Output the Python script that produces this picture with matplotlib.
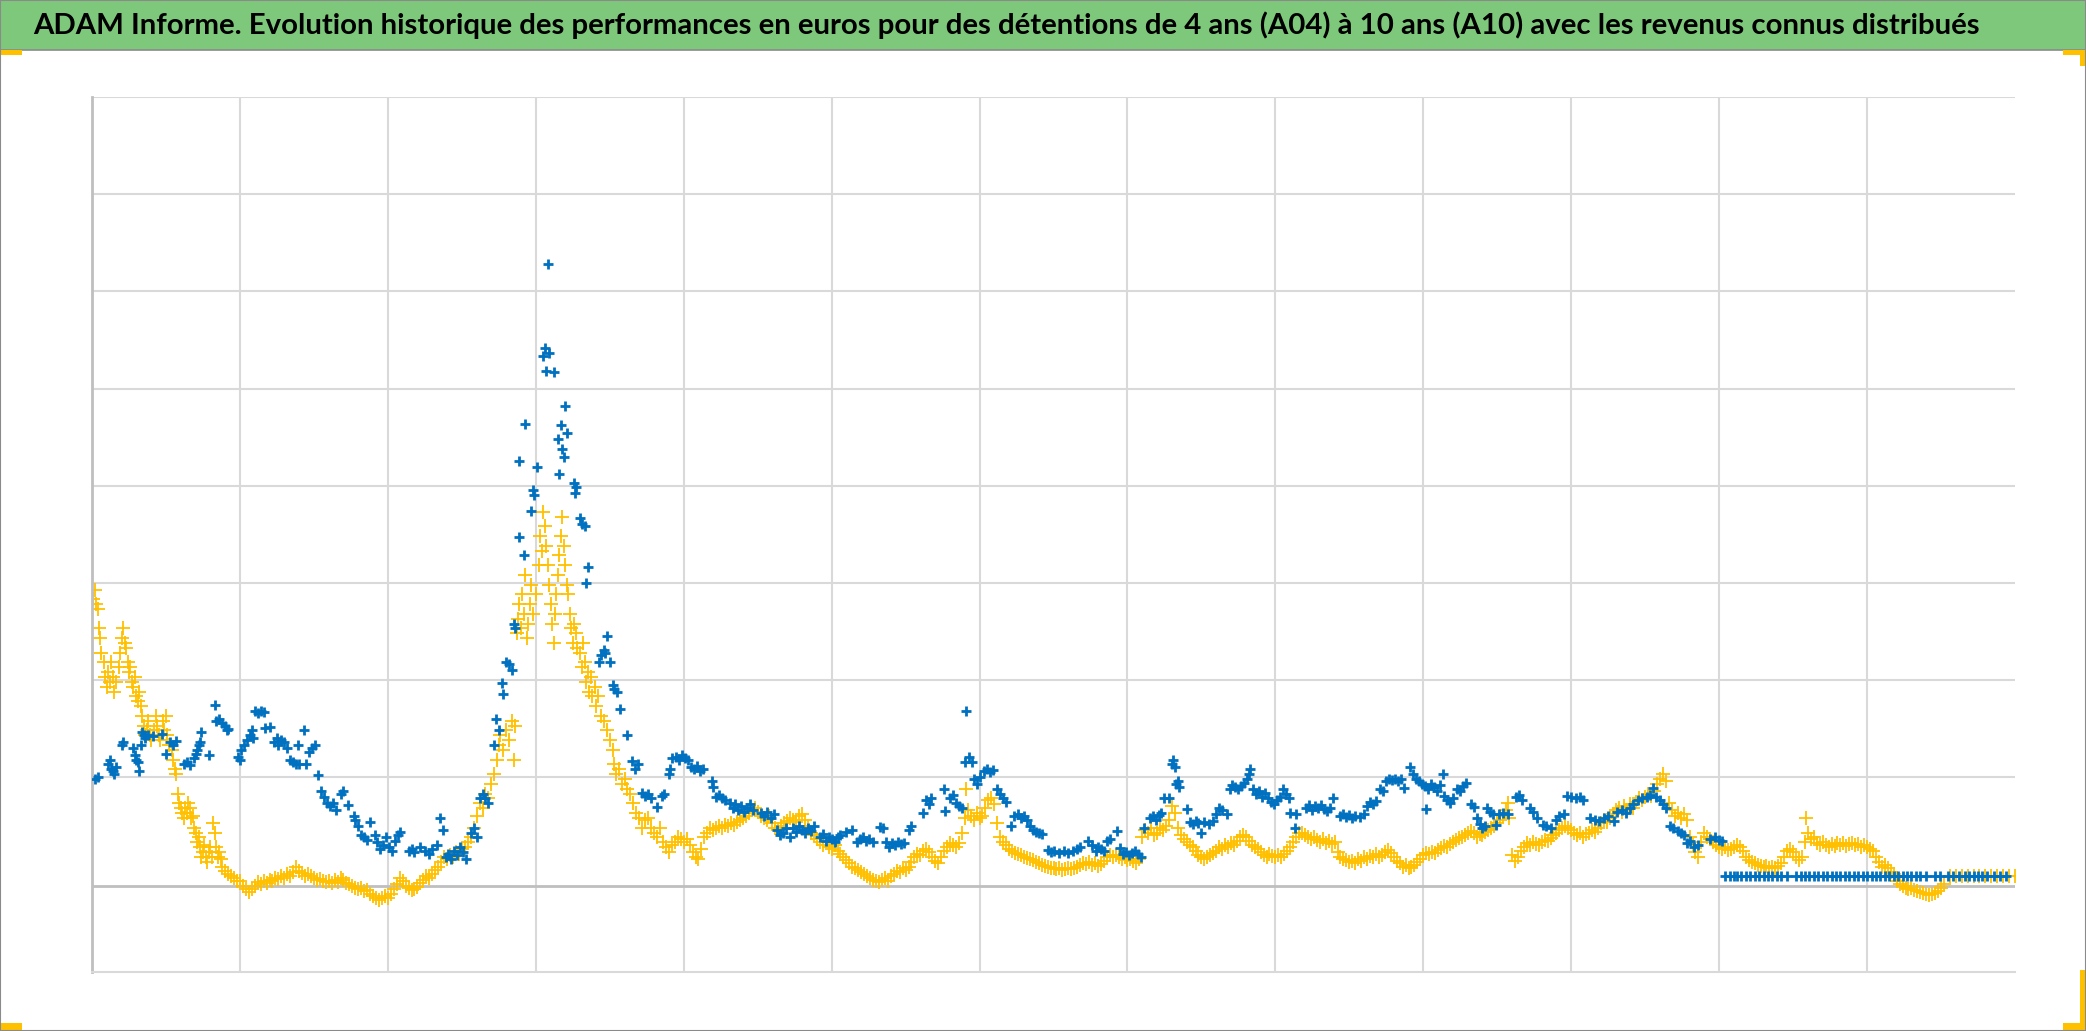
import matplotlib.pyplot as plt
import numpy as np
from matplotlib import font_manager
from matplotlib.patches import Rectangle

# Données (x = années depuis le début, y = performance en unités de quadrillage)
# A10 (jaune) : paires (x, y)
jaune = [
    0.01, 2.95, 0.02, 3.05, 0.03, 2.9, 0.04, 2.85, 0.05, 2.65, 0.055, 2.55, 0.06, 2.4, 0.08, 2.3,
    0.09, 2.15, 0.1, 2.05, 0.11, 2.2, 0.12, 2.1, 0.13, 2.3, 0.14, 2.15, 0.15, 2.0, 0.16, 2.1,
    0.18, 2.25, 0.19, 2.4, 0.2, 2.55, 0.21, 2.65, 0.22, 2.5, 0.23, 2.45, 0.24, 2.3, 0.25, 2.2,
    0.26, 2.25, 0.27, 2.1, 0.28, 2.05, 0.29, 2.15, 0.3, 1.95, 0.31, 1.9, 0.32, 2.0, 0.33, 1.85,
    0.34, 1.75, 0.35, 1.65, 0.36, 1.55, 0.37, 1.6, 0.38, 1.7, 0.39, 1.55, 0.4, 1.5, 0.42, 1.6,
    0.43, 1.75, 0.44, 1.65, 0.45, 1.55, 0.46, 1.5, 0.48, 1.7, 0.49, 1.6, 0.5, 1.75, 0.51, 1.55,
    0.52, 1.45, 0.54, 1.4, 0.55, 1.3, 0.56, 1.2, 0.57, 1.15, 0.58, 0.95, 0.59, 0.85, 0.6, 0.8,
    0.61, 0.75, 0.62, 0.7, 0.63, 0.8, 0.64, 0.75, 0.65, 0.85, 0.66, 0.8, 0.67, 0.7, 0.68, 0.72,
    0.69, 0.6, 0.7, 0.55, 0.71, 0.45, 0.72, 0.5, 0.73, 0.4, 0.74, 0.3, 0.75, 0.35, 0.76, 0.42,
    0.77, 0.3, 0.78, 0.25, 0.79, 0.35, 0.8, 0.4, 0.81, 0.3, 0.82, 0.65, 0.83, 0.55, 0.84, 0.4,
    0.85, 0.3, 0.86, 0.35, 0.87, 0.28, 0.88, 0.2, 0.9, 0.15, 0.92, 0.12, 0.94, 0.1, 0.96, 0.08,
    0.98, 0.05, 1.0, 0.05, 1.02, 0.0, 1.04, -0.03, 1.06, -0.06, 1.08, -0.03, 1.1, 0.0, 1.12, 0.04,
    1.14, 0.02, 1.16, 0.05, 1.18, 0.03, 1.2, 0.06, 1.22, 0.05, 1.24, 0.08, 1.26, 0.07, 1.28, 0.1,
    1.3, 0.08, 1.32, 0.12, 1.34, 0.1, 1.36, 0.14, 1.38, 0.2, 1.4, 0.15, 1.42, 0.13, 1.44, 0.1,
    1.46, 0.12, 1.48, 0.1, 1.5, 0.08, 1.52, 0.06, 1.54, 0.07, 1.56, 0.05, 1.58, 0.04, 1.6, 0.05,
    1.62, 0.03, 1.64, 0.06, 1.66, 0.04, 1.68, 0.08, 1.7, 0.06, 1.72, 0.03, 1.74, 0.02, 1.76, 0.0,
    1.78, -0.02, 1.8, -0.03, 1.82, -0.02, 1.84, -0.05, 1.86, -0.04, 1.88, -0.08, 1.9, -0.1,
    1.92, -0.12, 1.94, -0.14, 1.96, -0.12, 1.98, -0.1, 2.0, -0.12, 2.02, -0.08, 2.04, -0.03,
    2.06, 0.02, 2.08, 0.08, 2.1, 0.05, 2.12, 0.0, 2.14, -0.02, 2.16, -0.04, 2.18, -0.03, 2.2, -0.01,
    2.22, 0.03, 2.24, 0.06, 2.26, 0.1, 2.28, 0.08, 2.3, 0.12, 2.32, 0.16, 2.34, 0.2, 2.36, 0.25,
    2.38, 0.3, 2.4, 0.28, 2.42, 0.32, 2.44, 0.3, 2.46, 0.35, 2.48, 0.33, 2.5, 0.38, 2.52, 0.4,
    2.54, 0.45, 2.56, 0.5, 2.58, 0.6, 2.6, 0.72, 2.62, 0.85, 2.64, 0.8, 2.66, 0.95, 2.68, 0.9,
    2.7, 1.05, 2.72, 1.15, 2.74, 1.3, 2.75, 1.45, 2.76, 1.55, 2.78, 1.4, 2.8, 1.6, 2.82, 1.5,
    2.84, 1.7, 2.85, 1.3, 2.86, 1.65, 2.87, 2.6, 2.88, 2.75, 2.89, 2.9, 2.9, 2.65, 2.91, 3.0,
    2.92, 2.8, 2.93, 3.2, 2.94, 2.55, 2.95, 2.7, 2.96, 2.9, 2.97, 3.1, 2.98, 2.8, 3.0, 3.0,
    3.02, 3.3, 3.03, 3.6, 3.04, 3.45, 3.05, 3.85, 3.06, 3.7, 3.07, 3.5, 3.08, 3.3, 3.09, 3.1,
    3.1, 2.9, 3.11, 2.7, 3.12, 2.5, 3.13, 2.8, 3.14, 3.0, 3.15, 3.2, 3.16, 3.4, 3.17, 3.6,
    3.18, 3.8, 3.19, 3.5, 3.2, 3.3, 3.21, 3.1, 3.22, 3.0, 3.23, 2.8, 3.24, 2.65, 3.25, 2.5,
    3.26, 2.7, 3.27, 2.6, 3.28, 2.45, 3.3, 2.4, 3.31, 2.25, 3.32, 2.5, 3.33, 2.3, 3.34, 2.1,
    3.35, 2.2, 3.36, 2.0, 3.37, 2.15, 3.38, 1.95, 3.4, 2.05, 3.41, 1.85, 3.42, 1.95, 3.44, 1.75,
    3.46, 1.7, 3.48, 1.6, 3.5, 1.5, 3.52, 1.4, 3.53, 1.25, 3.54, 1.15, 3.56, 1.2, 3.58, 1.05,
    3.6, 1.1, 3.62, 1.0, 3.64, 0.95, 3.66, 0.85, 3.68, 0.75, 3.7, 0.7, 3.72, 0.6, 3.74, 0.68,
    3.76, 0.7, 3.78, 0.6, 3.8, 0.55, 3.82, 0.5, 3.84, 0.6, 3.86, 0.45, 3.88, 0.4, 3.9, 0.35,
    3.92, 0.42, 3.94, 0.45, 3.96, 0.5, 3.98, 0.48, 4.0, 0.45, 4.02, 0.48, 4.04, 0.42, 4.06, 0.35,
    4.08, 0.3, 4.1, 0.28, 4.12, 0.38, 4.14, 0.5, 4.16, 0.55, 4.18, 0.6, 4.2, 0.58, 4.22, 0.6,
    4.24, 0.62, 4.26, 0.6, 4.28, 0.63, 4.3, 0.62, 4.32, 0.65, 4.34, 0.63, 4.36, 0.66, 4.38, 0.68,
    4.4, 0.7, 4.42, 0.72, 4.44, 0.75, 4.46, 0.78, 4.48, 0.8, 4.5, 0.76, 4.52, 0.72, 4.54, 0.7,
    4.56, 0.68, 4.58, 0.72, 4.6, 0.65, 4.62, 0.6, 4.64, 0.58, 4.66, 0.62, 4.68, 0.65, 4.7, 0.67,
    4.72, 0.7, 4.74, 0.68, 4.76, 0.66, 4.78, 0.72, 4.8, 0.74, 4.82, 0.68, 4.84, 0.62, 4.86, 0.55,
    4.88, 0.52, 4.9, 0.48, 4.92, 0.45, 4.94, 0.42, 4.96, 0.46, 4.98, 0.4, 5.0, 0.38, 5.02, 0.42,
    5.04, 0.36, 5.06, 0.33, 5.08, 0.3, 5.1, 0.27, 5.12, 0.24, 5.14, 0.2, 5.16, 0.18, 5.18, 0.16,
    5.2, 0.14, 5.22, 0.12, 5.24, 0.1, 5.26, 0.08, 5.28, 0.06, 5.3, 0.05, 5.32, 0.04, 5.34, 0.06,
    5.36, 0.08, 5.38, 0.05, 5.4, 0.1, 5.42, 0.12, 5.44, 0.15, 5.46, 0.14, 5.48, 0.18, 5.5, 0.16,
    5.52, 0.2, 5.54, 0.25, 5.56, 0.3, 5.58, 0.33, 5.6, 0.32, 5.62, 0.36, 5.64, 0.38, 5.66, 0.35,
    5.68, 0.3, 5.7, 0.26, 5.72, 0.24, 5.74, 0.3, 5.76, 0.36, 5.78, 0.4, 5.8, 0.44, 5.82, 0.42,
    5.84, 0.4, 5.86, 0.44, 5.88, 0.55, 5.9, 0.7, 5.91, 1.0, 5.92, 0.78, 5.94, 0.72, 5.96, 0.68,
    5.98, 0.75, 6.0, 0.7, 6.02, 0.72, 6.04, 0.8, 6.06, 0.88, 6.08, 0.9, 6.1, 0.84, 6.12, 0.65,
    6.14, 0.5, 6.16, 0.45, 6.18, 0.42, 6.2, 0.38, 6.22, 0.36, 6.24, 0.34, 6.26, 0.33, 6.28, 0.32,
    6.3, 0.3, 6.32, 0.29, 6.34, 0.28, 6.36, 0.27, 6.38, 0.25, 6.4, 0.24, 6.42, 0.22, 6.44, 0.21,
    6.46, 0.2, 6.48, 0.19, 6.5, 0.18, 6.52, 0.17, 6.54, 0.18, 6.56, 0.16, 6.58, 0.17, 6.6, 0.18,
    6.62, 0.17, 6.64, 0.19, 6.66, 0.2, 6.68, 0.22, 6.7, 0.24, 6.72, 0.23, 6.74, 0.25, 6.76, 0.22,
    6.78, 0.24, 6.8, 0.21, 6.82, 0.23, 6.84, 0.26, 6.86, 0.3, 6.88, 0.32, 6.9, 0.3, 6.92, 0.32,
    6.94, 0.3, 6.96, 0.28, 6.98, 0.3, 7.0, 0.27, 7.02, 0.28, 7.04, 0.26, 7.06, 0.24, 7.08, 0.28,
    7.1, 0.5, 7.12, 0.58, 7.14, 0.55, 7.16, 0.6, 7.18, 0.52, 7.2, 0.55, 7.22, 0.6, 7.24, 0.58,
    7.26, 0.62, 7.28, 0.68, 7.3, 0.82, 7.32, 0.75, 7.34, 0.6, 7.36, 0.52, 7.38, 0.48, 7.4, 0.45,
    7.42, 0.42, 7.44, 0.4, 7.46, 0.36, 7.48, 0.32, 7.5, 0.3, 7.52, 0.28, 7.54, 0.3, 7.56, 0.32,
    7.58, 0.34, 7.6, 0.36, 7.62, 0.4, 7.64, 0.38, 7.66, 0.42, 7.68, 0.4, 7.7, 0.44, 7.72, 0.42,
    7.74, 0.46, 7.76, 0.5, 7.78, 0.52, 7.8, 0.5, 7.82, 0.46, 7.84, 0.42, 7.86, 0.4, 7.88, 0.38,
    7.9, 0.35, 7.92, 0.32, 7.94, 0.3, 7.96, 0.33, 7.98, 0.31, 8.0, 0.3, 8.02, 0.32, 8.04, 0.3,
    8.06, 0.33, 8.08, 0.36, 8.1, 0.4, 8.12, 0.45, 8.14, 0.5, 8.16, 0.54, 8.18, 0.55, 8.2, 0.52,
    8.22, 0.5, 8.24, 0.48, 8.26, 0.5, 8.28, 0.47, 8.3, 0.45, 8.32, 0.48, 8.34, 0.44, 8.36, 0.46,
    8.38, 0.43, 8.4, 0.45, 8.42, 0.35, 8.44, 0.3, 8.46, 0.28, 8.48, 0.27, 8.5, 0.25, 8.52, 0.26,
    8.54, 0.24, 8.56, 0.28, 8.58, 0.26, 8.6, 0.3, 8.62, 0.28, 8.64, 0.31, 8.66, 0.3, 8.68, 0.33,
    8.7, 0.3, 8.72, 0.32, 8.74, 0.35, 8.76, 0.37, 8.78, 0.34, 8.8, 0.3, 8.82, 0.26, 8.84, 0.24,
    8.86, 0.2, 8.88, 0.22, 8.9, 0.18, 8.92, 0.2, 8.94, 0.22, 8.96, 0.25, 8.98, 0.28, 9.0, 0.32,
    9.02, 0.34, 9.04, 0.33, 9.06, 0.35, 9.08, 0.34, 9.1, 0.37, 9.12, 0.39, 9.14, 0.41, 9.16, 0.4,
    9.18, 0.43, 9.2, 0.45, 9.22, 0.47, 9.24, 0.49, 9.26, 0.5, 9.28, 0.52, 9.3, 0.55, 9.32, 0.57,
    9.34, 0.55, 9.36, 0.5, 9.38, 0.53, 9.4, 0.52, 9.42, 0.56, 9.44, 0.58, 9.46, 0.6, 9.48, 0.62,
    9.5, 0.65, 9.52, 0.68, 9.54, 0.72, 9.56, 0.78, 9.57, 0.85, 9.58, 0.7, 9.6, 0.32, 9.62, 0.26,
    9.64, 0.3, 9.66, 0.36, 9.68, 0.4, 9.7, 0.44, 9.72, 0.42, 9.74, 0.45, 9.76, 0.43, 9.78, 0.42,
    9.8, 0.45, 9.82, 0.47, 9.84, 0.46, 9.86, 0.49, 9.88, 0.52, 9.9, 0.55, 9.92, 0.58, 9.94, 0.6,
    9.96, 0.62, 9.98, 0.6, 10.0, 0.58, 10.02, 0.55, 10.04, 0.52, 10.06, 0.55, 10.08, 0.5, 10.1, 0.53,
    10.12, 0.55, 10.14, 0.58, 10.16, 0.56, 10.18, 0.6, 10.2, 0.65, 10.22, 0.68, 10.24, 0.66,
    10.26, 0.7, 10.28, 0.74, 10.3, 0.78, 10.32, 0.8, 10.34, 0.76, 10.36, 0.82, 10.38, 0.78,
    10.4, 0.84, 10.42, 0.8, 10.44, 0.86, 10.46, 0.9, 10.48, 0.88, 10.5, 0.92, 10.52, 0.95,
    10.54, 0.93, 10.56, 0.98, 10.58, 1.05, 10.6, 1.1, 10.62, 1.15, 10.64, 1.08, 10.66, 0.85,
    10.68, 0.78, 10.7, 0.72, 10.72, 0.75, 10.74, 0.7, 10.76, 0.74, 10.78, 0.68, 10.8, 0.5,
    10.82, 0.42, 10.84, 0.35, 10.86, 0.3, 10.88, 0.45, 10.9, 0.55, 10.92, 0.5, 10.94, 0.48,
    10.96, 0.45, 10.98, 0.42, 11.0, 0.4, 11.02, 0.38, 11.04, 0.4, 11.06, 0.37, 11.08, 0.38,
    11.1, 0.4, 11.12, 0.42, 11.14, 0.4, 11.16, 0.36, 11.18, 0.3, 11.2, 0.27, 11.22, 0.25,
    11.24, 0.24, 11.26, 0.22, 11.28, 0.21, 11.3, 0.2, 11.32, 0.21, 11.34, 0.19, 11.36, 0.2,
    11.38, 0.19, 11.4, 0.21, 11.42, 0.24, 11.44, 0.3, 11.46, 0.36, 11.48, 0.38, 11.5, 0.35,
    11.52, 0.3, 11.54, 0.27, 11.56, 0.3, 11.58, 0.45, 11.59, 0.7, 11.6, 0.55, 11.62, 0.48,
    11.64, 0.5, 11.66, 0.44, 11.68, 0.42, 11.7, 0.45, 11.72, 0.42, 11.74, 0.4, 11.76, 0.43,
    11.78, 0.41, 11.8, 0.44, 11.82, 0.42, 11.84, 0.44, 11.86, 0.41, 11.88, 0.43, 11.9, 0.44,
    11.92, 0.42, 11.94, 0.43, 11.96, 0.4, 11.98, 0.42, 12.0, 0.4, 12.02, 0.38, 12.04, 0.36,
    12.06, 0.3, 12.08, 0.25, 12.1, 0.2, 12.12, 0.22, 12.14, 0.18, 12.16, 0.14, 12.18, 0.12,
    12.2, 0.05, 12.22, 0.02, 12.24, 0.0, 12.26, -0.02, 12.28, -0.03, 12.3, -0.02, 12.32, -0.04,
    12.34, -0.05, 12.36, -0.06, 12.38, -0.07, 12.4, -0.08, 12.42, -0.09, 12.44, -0.08, 12.46, -0.07,
    12.48, -0.05, 12.5, -0.02, 12.52, 0.02, 12.56, 0.1, 12.6, 0.1, 12.64, 0.1, 12.68, 0.1,
    12.72, 0.1, 12.76, 0.1, 12.8, 0.1, 12.84, 0.1, 12.88, 0.1, 12.92, 0.1, 12.96, 0.1, 13.0, 0.1,
    13.02, 0.1,
]

# A04 (bleu) : paires (x, y)
bleu = [
    0.02, 1.1, 0.04, 1.12, 0.11, 1.25, 0.12, 1.3, 0.13, 1.2, 0.14, 1.18, 0.15, 1.15, 0.16, 1.22,
    0.2, 1.45, 0.21, 1.48, 0.28, 1.42, 0.29, 1.35, 0.3, 1.3, 0.31, 1.28, 0.32, 1.18, 0.33, 1.45,
    0.34, 1.58, 0.35, 1.55, 0.36, 1.52, 0.38, 1.55, 0.41, 1.54, 0.47, 1.56, 0.5, 1.36, 0.53, 1.48,
    0.55, 1.45, 0.57, 1.49, 0.62, 1.25, 0.64, 1.28, 0.66, 1.24, 0.69, 1.32, 0.7, 1.36, 0.71, 1.4,
    0.72, 1.45, 0.73, 1.48, 0.74, 1.58, 0.79, 1.35, 0.83, 1.86, 0.84, 1.7, 0.86, 1.72, 0.88, 1.68,
    0.9, 1.65, 0.91, 1.6, 0.92, 1.62, 0.99, 1.33, 1.0, 1.3, 1.01, 1.4, 1.03, 1.45, 1.05, 1.5,
    1.07, 1.55, 1.08, 1.6, 1.09, 1.52, 1.1, 1.8, 1.12, 1.78, 1.14, 1.8, 1.16, 1.79, 1.17, 1.63,
    1.2, 1.64, 1.23, 1.48, 1.25, 1.52, 1.26, 1.45, 1.28, 1.5, 1.3, 1.48, 1.32, 1.42, 1.34, 1.3,
    1.36, 1.28, 1.38, 1.25, 1.39, 1.45, 1.4, 1.25, 1.43, 1.6, 1.45, 1.26, 1.47, 1.38, 1.49, 1.42,
    1.51, 1.45, 1.53, 1.14, 1.55, 0.98, 1.57, 0.92, 1.59, 0.85, 1.61, 0.82, 1.63, 0.85, 1.65, 0.78,
    1.68, 0.95, 1.7, 0.98, 1.73, 0.83, 1.77, 0.72, 1.78, 0.68, 1.8, 0.62, 1.82, 0.52, 1.84, 0.5,
    1.86, 0.47, 1.88, 0.66, 1.91, 0.52, 1.93, 0.45, 1.95, 0.38, 1.97, 0.42, 1.99, 0.5, 2.01, 0.4,
    2.03, 0.36, 2.05, 0.46, 2.07, 0.52, 2.08, 0.56, 2.14, 0.36, 2.16, 0.38, 2.18, 0.35, 2.22, 0.4,
    2.25, 0.36, 2.28, 0.33, 2.3, 0.38, 2.33, 0.42, 2.35, 0.7, 2.37, 0.58, 2.39, 0.3, 2.41, 0.33,
    2.43, 0.28, 2.45, 0.36, 2.47, 0.32, 2.49, 0.4, 2.51, 0.35, 2.53, 0.28, 2.56, 0.55, 2.58, 0.6,
    2.6, 0.5, 2.62, 0.9, 2.64, 0.95, 2.66, 0.9, 2.68, 0.85, 2.72, 1.45, 2.73, 1.72, 2.75, 1.6,
    2.77, 2.09, 2.78, 1.98, 2.8, 2.3, 2.82, 2.28, 2.84, 2.22, 2.85, 2.7, 2.86, 2.65, 2.89, 3.59,
    2.89, 4.37, 2.92, 3.41, 2.93, 4.75, 2.97, 3.86, 2.98, 4.07, 2.985, 4.02, 3.01, 4.31, 3.05, 5.45,
    3.06, 5.53, 3.07, 5.3, 3.08, 6.4, 3.09, 5.48, 3.12, 5.29, 3.15, 4.6, 3.16, 4.24, 3.17, 4.74,
    3.18, 4.5, 3.19, 4.41, 3.2, 4.94, 3.21, 4.66, 3.26, 4.15, 3.265, 4.04, 3.27, 4.1, 3.3, 3.79,
    3.31, 3.72, 3.33, 3.7, 3.34, 3.12, 3.35, 3.28, 3.43, 2.3, 3.44, 2.38, 3.46, 2.43, 3.47, 2.4,
    3.48, 2.57, 3.5, 2.3, 3.52, 2.07, 3.53, 2.03, 3.55, 2.0, 3.57, 1.82, 3.62, 1.55, 3.65, 1.29,
    3.67, 1.2, 3.69, 1.25, 3.72, 0.96, 3.74, 0.93, 3.76, 0.95, 3.78, 0.91, 3.82, 0.81, 3.85, 0.93,
    3.87, 0.95, 3.9, 1.15, 3.91, 1.2, 3.92, 1.32, 3.95, 1.33, 3.97, 1.3, 3.99, 1.35, 4.01, 1.32,
    4.03, 1.3, 4.05, 1.22, 4.07, 1.2, 4.09, 1.23, 4.11, 1.18, 4.13, 1.2, 4.19, 1.08, 4.2, 1.02,
    4.22, 0.92, 4.24, 0.94, 4.26, 0.9, 4.28, 0.88, 4.31, 0.85, 4.33, 0.8, 4.35, 0.84, 4.37, 0.78,
    4.39, 0.82, 4.41, 0.76, 4.43, 0.8, 4.45, 0.84, 4.47, 0.78, 4.52, 0.75, 4.54, 0.72, 4.56, 0.76,
    4.59, 0.7, 4.61, 0.74, 4.63, 0.58, 4.65, 0.52, 4.67, 0.55, 4.69, 0.6, 4.72, 0.5, 4.74, 0.6,
    4.76, 0.56, 4.78, 0.62, 4.8, 0.58, 4.82, 0.55, 4.84, 0.6, 4.86, 0.57, 4.88, 0.62, 4.92, 0.5,
    4.94, 0.53, 4.96, 0.46, 4.98, 0.5, 5.0, 0.48, 5.02, 0.45, 5.04, 0.5, 5.06, 0.52, 5.1, 0.56,
    5.14, 0.58, 5.17, 0.45, 5.19, 0.48, 5.21, 0.5, 5.23, 0.46, 5.25, 0.48, 5.28, 0.45, 5.33, 0.61,
    5.35, 0.6, 5.37, 0.45, 5.39, 0.4, 5.41, 0.44, 5.43, 0.42, 5.45, 0.45, 5.47, 0.43, 5.49, 0.44,
    5.52, 0.58, 5.54, 0.62, 5.62, 0.75, 5.64, 0.88, 5.66, 0.84, 5.67, 0.9, 5.76, 1.0, 5.765, 0.77,
    5.8, 0.9, 5.82, 0.94, 5.84, 0.85, 5.86, 0.82, 5.88, 0.8, 5.9, 1.28, 5.91, 1.8, 5.93, 1.33,
    5.95, 1.28, 5.96, 1.1, 5.98, 1.05, 6.0, 1.12, 6.03, 1.18, 6.05, 1.2, 6.07, 1.17, 6.09, 1.19,
    6.12, 1.0, 6.14, 0.95, 6.16, 0.9, 6.18, 0.86, 6.21, 0.62, 6.23, 0.72, 6.26, 0.74, 6.28, 0.7,
    6.3, 0.72, 6.32, 0.68, 6.34, 0.62, 6.36, 0.58, 6.38, 0.56, 6.4, 0.55, 6.42, 0.53, 6.46, 0.37,
    6.48, 0.35, 6.5, 0.36, 6.54, 0.34, 6.57, 0.36, 6.6, 0.34, 6.63, 0.36, 6.66, 0.38, 6.68, 0.4,
    6.73, 0.46, 6.76, 0.42, 6.79, 0.36, 6.8, 0.4, 6.82, 0.38, 6.84, 0.36, 6.86, 0.46, 6.88, 0.48,
    6.93, 0.57, 6.95, 0.39, 6.97, 0.33, 6.99, 0.35, 7.01, 0.32, 7.03, 0.34, 7.05, 0.36, 7.07, 0.33,
    7.09, 0.3, 7.11, 0.6, 7.15, 0.7, 7.17, 0.72, 7.19, 0.68, 7.21, 0.73, 7.23, 0.75, 7.25, 0.91,
    7.28, 0.9, 7.3, 1.25, 7.31, 1.3, 7.32, 1.22, 7.33, 1.05, 7.34, 1.08, 7.35, 1.02, 7.4, 0.79,
    7.42, 0.66, 7.44, 0.64, 7.46, 0.67, 7.48, 0.65, 7.5, 0.55, 7.52, 0.66, 7.55, 0.64, 7.58, 0.67,
    7.6, 0.74, 7.62, 0.8, 7.64, 0.78, 7.67, 0.74, 7.69, 1.0, 7.71, 1.04, 7.73, 1.02, 7.75, 1.0,
    7.77, 1.03, 7.79, 1.06, 7.81, 1.1, 7.82, 1.15, 7.83, 1.2, 7.85, 1.0, 7.87, 0.95, 7.89, 0.98,
    7.91, 0.92, 7.93, 0.96, 7.95, 0.9, 7.97, 0.86, 7.99, 0.84, 8.01, 0.88, 8.03, 0.92, 8.05, 1.0,
    8.07, 0.95, 8.09, 0.9, 8.1, 0.75, 8.13, 0.6, 8.14, 0.74, 8.21, 0.8, 8.23, 0.83, 8.25, 0.78,
    8.27, 0.82, 8.29, 0.8, 8.31, 0.83, 8.33, 0.79, 8.35, 0.77, 8.37, 0.8, 8.39, 0.91, 8.44, 0.72,
    8.46, 0.74, 8.48, 0.71, 8.5, 0.73, 8.52, 0.7, 8.54, 0.72, 8.57, 0.71, 8.6, 0.74, 8.62, 0.82,
    8.64, 0.86, 8.66, 0.84, 8.68, 0.87, 8.71, 1.0, 8.73, 0.98, 8.75, 1.08, 8.77, 1.1, 8.79, 1.09,
    8.81, 1.1, 8.83, 1.08, 8.85, 1.1, 8.87, 1.01, 8.91, 1.22, 8.93, 1.15, 8.95, 1.1, 8.97, 1.08,
    8.99, 1.05, 9.01, 1.03, 9.02, 0.79, 9.03, 1.0, 9.05, 1.05, 9.07, 1.02, 9.09, 0.98, 9.11, 1.04,
    9.13, 1.15, 9.14, 0.93, 9.16, 0.88, 9.18, 0.85, 9.2, 0.9, 9.23, 1.0, 9.25, 0.98, 9.27, 1.03,
    9.29, 1.06, 9.32, 0.84, 9.34, 0.81, 9.36, 0.7, 9.38, 0.64, 9.4, 0.6, 9.42, 0.62, 9.43, 0.8,
    9.45, 0.76, 9.47, 0.74, 9.49, 0.63, 9.51, 0.74, 9.54, 0.75, 9.57, 0.74, 9.63, 0.92, 9.65, 0.94,
    9.67, 0.88, 9.72, 0.8, 9.74, 0.76, 9.77, 0.7, 9.81, 0.63, 9.83, 0.62, 9.86, 0.6, 9.9, 0.68,
    9.92, 0.72, 9.95, 0.74, 9.97, 0.93, 10.0, 0.92, 10.03, 0.91, 10.06, 0.92, 10.08, 0.88,
    10.13, 0.7, 10.16, 0.68, 10.19, 0.67, 10.22, 0.7, 10.25, 0.72, 10.29, 0.67, 10.31, 0.76,
    10.34, 0.78, 10.37, 0.75, 10.4, 0.8, 10.42, 0.84, 10.45, 0.88, 10.48, 0.9, 10.51, 0.92,
    10.53, 0.94, 10.55, 1.01, 10.57, 0.92, 10.6, 0.88, 10.62, 0.84, 10.64, 0.8, 10.67, 0.62,
    10.69, 0.6, 10.72, 0.57, 10.74, 0.54, 10.76, 0.52, 10.78, 0.44, 10.8, 0.46, 10.83, 0.4,
    10.86, 0.42, 10.94, 0.48, 10.97, 0.5, 11.0, 0.47, 11.02, 0.46,
]

# A04 en fin de période : valeur constante
bleu_plat_x = [
    11.04, 11.07, 11.1, 11.12, 11.15, 11.18, 11.21, 11.24, 11.27, 11.3, 11.33, 11.36, 11.39,
    11.42, 11.46, 11.52, 11.55, 11.58, 11.61, 11.64, 11.67, 11.7, 11.73, 11.76, 11.79, 11.82,
    11.85, 11.88, 11.91, 11.94, 11.97, 12.0, 12.03, 12.06, 12.09, 12.12, 12.15, 12.18, 12.21,
    12.24, 12.27, 12.3, 12.33, 12.36, 12.4, 12.46, 12.49, 12.55, 12.58, 12.62, 12.66, 12.69,
    12.72, 12.75, 12.78, 12.81, 12.86, 12.9, 12.94,
]
bleu_plat_y = 0.1

titre = ("ADAM Informe. Evolution historique des performances en euros pour des détentions "
         "de 4 ans (A04) à 10 ans (A10) avec les revenus connus distribués")

jaune = np.array(jaune).reshape(-1, 2)
bleu = np.array(bleu).reshape(-1, 2)

W, H = 2086, 1031
fig = plt.figure(figsize=(W / 100, H / 100), dpi=100)

# Bandeau vert du titre
fig.patches.append(Rectangle((0, 1 - 50 / H), 1, 50 / H, transform=fig.transFigure,
                             facecolor='#7ec87b', edgecolor='#8a8a8a', lw=1.2))

noms = [f.name for f in font_manager.fontManager.ttflist]
police = 'Lato' if 'Lato' in noms else 'DejaVu Sans'
txt = fig.text(33 / W, 1 - 25 / H, titre, ha='left', va='center', fontsize=24,
               fontweight='bold', family=police, color='black')
# ajuster la taille pour occuper la même largeur que l'original
r = fig.canvas.get_renderer()
larg = txt.get_window_extent(r).width
txt.set_fontsize(24 * 1950 / larg)

# Zone du graphique
ax = fig.add_axes([92 / W, 1 - 972 / H, (2015 - 92) / W, (972 - 97) / H])
ymin, ymax = -0.885, 8.117
ax.set_xlim(0, 13)
ax.set_ylim(ymin, ymax)

for k in range(8):
    ax.axhline(ymax - k, color='#d9d9d9', lw=1.5, zorder=0)
for k in range(1, 13):
    ax.axvline(k, color='#d9d9d9', lw=1.5, zorder=0)
ax.axhline(0, color='#bfbfbf', lw=2, zorder=1)

ax.plot(jaune[:, 0], jaune[:, 1], '+', color='#ffc000', ms=10, mew=1.3, zorder=2)
ax.plot(bleu[:, 0], bleu[:, 1], '+', color='#0070c0', ms=6.5, mew=2.0, zorder=3)
ax.plot(bleu_plat_x, [bleu_plat_y] * len(bleu_plat_x), '+', color='#0070c0', ms=6.5, mew=2.0,
        zorder=3)

ax.set_xticks([])
ax.set_yticks([])
for cote in ['top', 'right']:
    ax.spines[cote].set_visible(False)
ax.spines['left'].set_color('#bfbfbf')
ax.spines['left'].set_linewidth(2)
ax.spines['bottom'].set_color('#d9d9d9')
ax.spines['bottom'].set_linewidth(1.5)

# Poignées de sélection orange (coins)
orange = '#ffc000'
for (x0, y0, w, h) in [(0, 50, 22, 5), (2063, 50, 23, 5), (2080, 50, 6, 16),
                       (0, 1023, 22, 7), (2063, 1023, 23, 7), (2080, 970, 6, 60)]:
    fig.patches.append(Rectangle((x0 / W, 1 - (y0 + h) / H), w / W, h / H,
                                 transform=fig.transFigure, facecolor=orange, edgecolor='none'))

# Cadre gris de l'image
fig.patches.append(Rectangle((0, 0), 1, 1, transform=fig.transFigure, facecolor='none',
                             edgecolor='#8a8a8a', lw=1.5))

fig.savefig('out.png', dpi=100)
